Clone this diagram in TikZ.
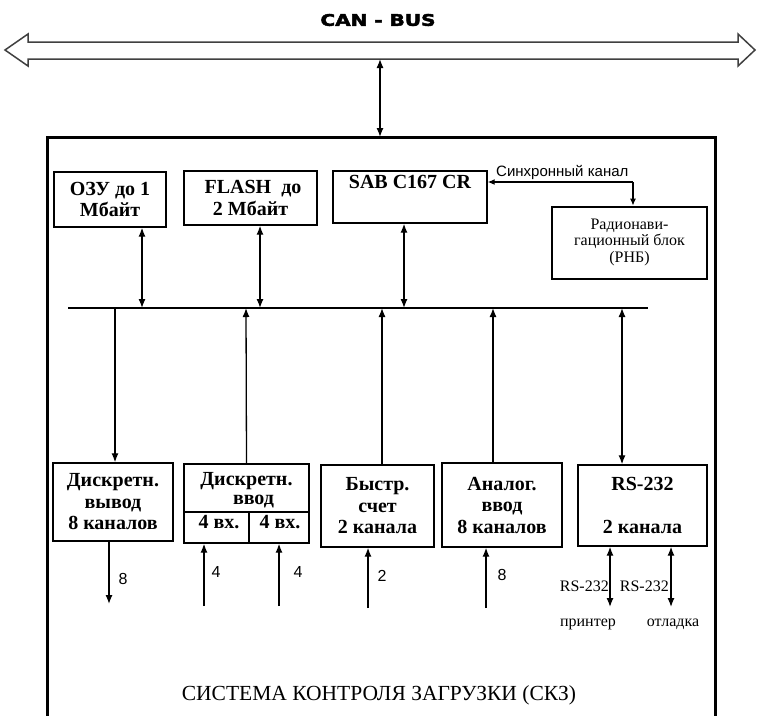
\documentclass[tikz,border=0pt]{standalone}
\usepackage{fontspec}
\setmainfont{Liberation Serif}
\newfontfamily\arialf{Liberation Sans}
\newfontfamily\heavyf{DejaVu Sans Bold}[FakeBold=2.5]
\usetikzlibrary{arrows.meta}
\begin{document}
\begin{tikzpicture}[x=1pt,y=-1pt,
  blk/.style={draw,line width=1.4pt,inner sep=0pt,align=center,font=\bfseries\fontsize{20}{21.5}\selectfont},
  txt/.style={inner sep=0pt,align=center,font=\bfseries\fontsize{20}{19}\selectfont},
  small/.style={inner sep=0pt,align=center,font=\fontsize{16}{16.5}\selectfont},
  num/.style={inner sep=0pt,font=\arialf\fontsize{16}{18}\selectfont},
  conn/.style={line width=1.3pt,-{Latex[length=9pt,width=7pt]}},
  dconn/.style={line width=1.3pt,{Latex[length=9pt,width=7pt]}-{Latex[length=9pt,width=7pt]}},
  busline/.style={line width=1.3pt}]
\useasboundingbox (0,0) rectangle (757,715);
\fill[white] (0,0) rectangle (757,715);
% CAN bus
\node[inner sep=0pt,font=\heavyf\fontsize{16}{18}\selectfont,xscale=1.25] (cantxt) at (378,20) {CAN - BUS};
\draw[line width=1.5pt,black!75,line join=miter] (5,50) -- (28,34) -- (28,42) -- (738,42) -- (738,34) -- (755,50) -- (738,66) -- (738,59) -- (28,59) -- (28,66) -- cycle;
\coordinate (canb) at (380,59);
% outer system box
\coordinate (oTL) at (47,137);
\coordinate (oTR) at (715,137);
\draw[line width=3pt] (47,720) -- (oTL) -- (oTR) -- (715,720);
\draw[dconn] (canb) -- (canb |- oTL);
% top blocks
\node[blk,minimum width=112pt,minimum height=55pt] (ozu) at (110,199.5) {ОЗУ до 1\\Мбайт};
\node[blk,minimum width=133pt,minimum height=54pt] (flash) at (250.5,198) {\hspace*{5pt}FLASH\ \ до\\2 Мбайт};
\node[blk,minimum width=154pt,minimum height=52pt] (sab) at (410,197) {};
\node[txt,anchor=north] (sabt) at (410,175) {SAB C167 CR};
\node[draw,line width=2.8pt,minimum width=155pt,minimum height=72pt,inner sep=0pt] (rnb) at (629.5,243) {};
\node[small] (rnbt) at (629.5,242) {Радионави-\\гационный блок\\(РНБ)};
% synchronous channel
\node[inner sep=0pt,font=\arialf\fontsize{15}{16}\selectfont,anchor=west] (syntxt) at (496,172) {Синхронный канал};
\coordinate (syn) at (633,182);
\draw[line width=1.2pt,-{Latex[length=7pt,width=6pt]}] (syn) -- (syn -| sab.east);
\draw[line width=1.2pt,-{Latex[length=7pt,width=6pt]}] (syn) -- (syn |- rnb.north);
% internal bus
\coordinate (busL) at (68,308);
\coordinate (busR) at (648,308);
\draw[busline] (busL) -- (busR);
\coordinate (b1) at (142,308);
\coordinate (b2) at (260,308);
\coordinate (b3) at (404,308);
\coordinate (b4) at (115,308);
\coordinate (b5) at (246,308);
\coordinate (b6) at (382,308);
\coordinate (b7) at (493,308);
\coordinate (b8) at (622,308);
\draw[dconn] (ozu.south -| b1) -- (b1);
\draw[dconn] (flash.south -| b2) -- (b2);
\draw[dconn] (sab.south -| b3) -- (b3);
% lower blocks
\node[blk,minimum width=120pt,minimum height=78pt] (dvy) at (113,502) {Дискретн.\\вывод\\8 каналов};
\node[draw,line width=1.4pt,minimum width=125pt,minimum height=79pt,inner sep=0pt] (dvv) at (246.5,503.5) {};
\node[txt] (dvvt) at (246.5,490) {Дискретн.\\\hspace*{14pt}ввод};
\coordinate (dvvm) at (249,512);
\draw[line width=1.4pt] (dvv.west |- dvvm) -- (dvv.east |- dvvm);
\draw[line width=1.4pt] (dvvm) -- (dvvm |- dvv.south);
\node[txt] (dvv1) at (219,522) {4 вх.};
\node[txt] (dvv2) at (280,522) {4 вх.};
\node[blk,minimum width=113pt,minimum height=82pt] (bs) at (377.5,506) {Быстр.\\счет\\2 канала};
\node[blk,minimum width=120pt,minimum height=84pt] (an) at (502,505) {Аналог.\\ввод\\8 каналов};
\node[blk,minimum width=129pt,minimum height=81pt] (rs) at (642.5,505.5) {RS-232\\[21pt]2 канала};
\draw[conn] (b4) -- (b4 |- dvy.north);
\draw[conn] (dvv.north) -- (b5);
\draw[conn] (bs.north -| b6) -- (b6);
\draw[conn] (an.north -| b7) -- (b7);
\draw[dconn] (rs.north -| b8) -- (b8);
% outputs / inputs
\coordinate (o1) at (109,604);
\draw[conn] (dvy.south -| o1) -- (o1);
\node[num] (l8a) at (123,579) {8};
\coordinate (i1) at (204,606);
\coordinate (i2) at (279,606);
\draw[conn] (i1) -- (i1 |- dvv.south);
\draw[conn] (i2) -- (i2 |- dvv.south);
\node[num] (l4a) at (216,572) {4};
\node[num] (l4b) at (298,572) {4};
\coordinate (i3) at (368,608);
\draw[conn] (i3) -- (i3 |- bs.south);
\node[num] (l2) at (382,576) {2};
\coordinate (i4) at (486,608);
\draw[conn] (i4) -- (i4 |- an.south);
\node[num] (l8b) at (502,575) {8};
\coordinate (r1) at (610,607);
\coordinate (r2) at (671,607);
\draw[dconn] (rs.south -| r1) -- (r1);
\draw[dconn] (rs.south -| r2) -- (r2);
\node[small,anchor=east] (rl1) at (609,586) {RS-232};
\node[small,anchor=east] (rl2) at (669,586) {RS-232};
\node[small] (prn) at (588,624) {принтер};
\node[small] (dbg) at (673,624) {отладка};
% title
\node[inner sep=0pt,font=\fontsize{21.5}{24}\selectfont] (title) at (379,695) {СИСТЕМА КОНТРОЛЯ ЗАГРУЗКИ (СКЗ)};
\end{tikzpicture}
\end{document}
